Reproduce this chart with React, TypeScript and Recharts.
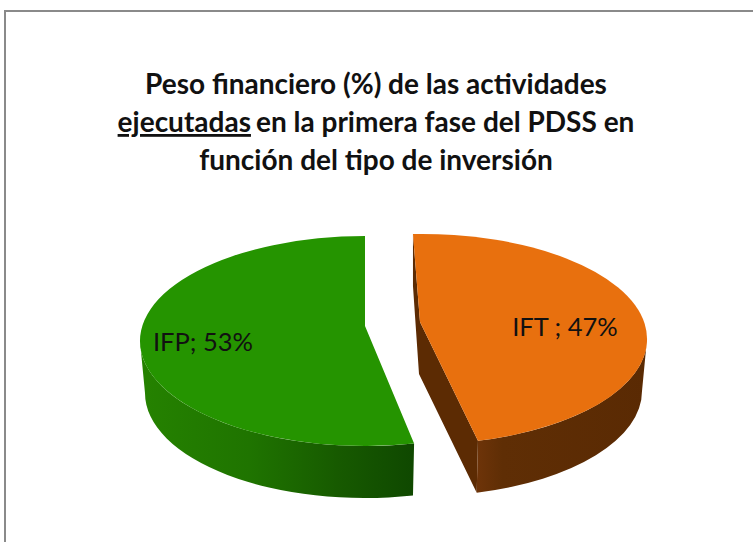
import React from "react";
import { PieChart, Pie } from "recharts";

const categories = ["IFP", "IFT"];
const shares = [53, 47];
const labelTexts = ["IFP; 53%", "IFT ; 47%"];
const titleLines = ["Peso financiero (%) de las actividades", "en la primera fase del PDSS en", "función del tipo de inversión"];
const underlinedWord = "ejecutadas";

const data = categories.map((name, i) => ({ name, value: shares[i], label: labelTexts[i] }));

const ASPECT = 2.143;
const DEPTH = 52;
const sliceStyles = [
  { top: "#259400", grad: "wallG", dx: 0, dy: 0, rotStart: 0, rotEnd: 1.8, apexDx: 0, apexDy: -15, lx: -162, ly: 9 },
  { top: "#e8700e", grad: "wallO", dx: 57, dy: -2, rotStart: 3.6, rotEnd: 2.3, apexDx: -2, apexDy: -17, lx: 143, ly: -6 },
];

const rad = (a: number) => (a * Math.PI) / 180;

function Slice3D(props: any) {
  const { cx, cy, outerRadius, startAngle, endAngle, index } = props;
  const s = sliceStyles[index];
  const rx = outerRadius * ASPECT;
  const ry = outerRadius;
  const x0 = cx + s.dx;
  const y0 = cy + s.dy;
  const a0 = startAngle + s.rotStart;
  const a1 = endAngle + s.rotEnd;
  const pt = (a: number, r = rx, d = 0) => [x0 + r * Math.cos(rad(a)), y0 + d - ry * Math.sin(rad(a))];
  const P = (p: number[]) => `${p[0].toFixed(2)} ${p[1].toFixed(2)}`;
  const apex = [x0 + s.apexDx, y0 + s.apexDy];
  const rb = rx - 5;
  const large = Math.abs(a1 - a0) > 180 ? 1 : 0;
  const face = `M${P(apex)} L${P(pt(a0))} A${rx} ${ry} 0 ${large} 0 ${P(pt(a1))} Z`;

  // visible outer wall: the front half of the rim only
  const fa0 = Math.max(a0, 180);
  const fa1 = Math.min(a1, 360);
  const wall =
    `M${P(pt(fa0))} A${rx} ${ry} 0 0 0 ${P(pt(fa1))} ` +
    `L${P(pt(fa1, rb, DEPTH))} A${rb} ${ry} 0 0 1 ${P(pt(fa0, rb, DEPTH))} Z`;

  // the cut face looking at the viewer on the exploded slice
  const inner =
    index === 1
      ? `M${P(pt(a1))} L${P([pt(a1)[0], pt(a1)[1] + DEPTH])} L${P([apex[0] - 1, apex[1] + DEPTH])} ` +
        `L${P(pt(a0, rb, DEPTH))} L${P(pt(a0))} L${P(apex)} Z`
      : null;

  return (
    <g>
      {inner && <path d={inner} fill="#5c2b03" />}
      <path d={wall} fill={`url(#${s.grad})`} />
      <path d={face} fill={s.top} />
    </g>
  );
}

function SliceLabel(props: any) {
  const { cx, cy, index } = props;
  const s = sliceStyles[index];
  return (
    <text
      x={cx + s.lx + (index === 1 ? 57 : 0)}
      y={cy + s.ly + 1}
      textAnchor="middle"
      fontFamily="Lato, sans-serif"
      fontSize={25.5}
      fill="#111"
    >
      {data[index].label}
    </text>
  );
}

export default function App() {
  return (
    <div style={{ position: "absolute", left: 0, top: 0, width: 753, height: 542, background: "#fff", overflow: "hidden" }}>
      <div style={{ position: "absolute", left: 4, top: 10, width: 760, height: 600, borderTop: "2px solid #8a8a8a", borderLeft: "2px solid #8a8a8a" }} />
      <div style={{ position: "absolute", left: 0, top: 0 }}>
        <PieChart width={753} height={542} margin={{ top: 0, right: 0, bottom: 0, left: 0 }}>
          <defs>
            <linearGradient id="wallG" x1="0" y1="0" x2="1" y2="0">
              <stop offset="0" stopColor="#258200" />
              <stop offset="0.4" stopColor="#1f7400" />
              <stop offset="0.72" stopColor="#175a00" />
              <stop offset="1" stopColor="#0f4800" />
            </linearGradient>
            <linearGradient id="wallO" x1="0" y1="0" x2="1" y2="0">
              <stop offset="0" stopColor="#6e3409" />
              <stop offset="0.15" stopColor="#5f2e05" />
              <stop offset="1" stopColor="#5a2a03" />
            </linearGradient>
          </defs>
          <text textAnchor="middle" fontFamily="Lato, sans-serif" fontWeight={700} fontSize={28} fill="#111">
            <tspan x={376} y={94}>{titleLines[0]}</tspan>
            <tspan x={376} y={132} textDecoration="underline">{underlinedWord}</tspan>
            <tspan dx={5}>{titleLines[1]}</tspan>
            <tspan x={376} y={170}>{titleLines[2]}</tspan>
          </text>
          <Pie
            data={data}
            dataKey="value"
            nameKey="name"
            cx={365}
            cy={341}
            outerRadius={105}
            startAngle={90}
            endAngle={450}
            stroke="none"
            isAnimationActive={false}
            shape={Slice3D}
            label={SliceLabel}
            labelLine={false}
          />
        </PieChart>
      </div>
    </div>
  );
}
